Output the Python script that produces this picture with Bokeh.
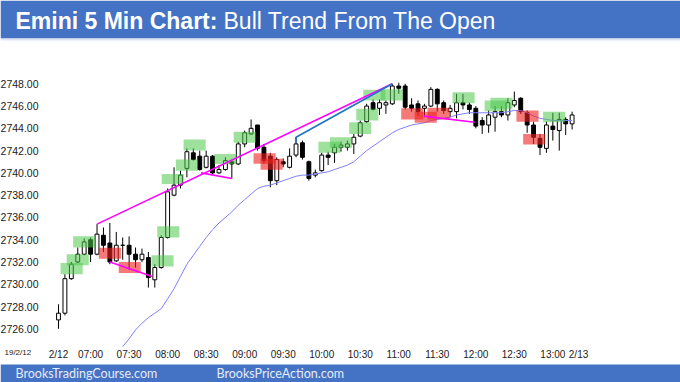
from bokeh.plotting import figure
from bokeh.models import Range1d
from bokeh.core.properties import value
from bokeh.embed import file_html
from bokeh.resources import INLINE

# ---------------- data ----------------
opens = [2726.8, 2727.4, 2730.5, 2732.0, 2732.7, 2734.0, 2732.7, 2734.4, 2733.7, 2732.1,
         2733.5, 2733.5, 2732.7, 2732.2, 2732.4, 2730.4, 2731.5, 2734.2, 2738.0, 2738.9,
         2740.4, 2741.8, 2741.5, 2740.5, 2741.5, 2740.0, 2740.3, 2741.0, 2740.8, 2742.6,
         2743.5, 2744.3, 2742.3, 2741.5, 2739.3, 2741.0, 2740.5, 2741.6, 2742.7, 2741.0,
         2739.8, 2740.2, 2741.6, 2741.8, 2742.3, 2742.3, 2742.6, 2743.3, 2744.6, 2746.3,
         2745.8, 2746.1, 2746.2, 2747.8, 2747.8, 2746.1, 2746.2, 2745.8, 2746.0, 2747.5,
         2746.3, 2745.5, 2745.5, 2746.3, 2746.1, 2745.8, 2744.7, 2744.3, 2745.0, 2745.5,
         2745.2, 2746.1, 2746.7, 2745.4, 2744.3, 2743.1, 2742.2, 2744.2, 2743.8, 2744.8,
         2744.4]
highs = [2728.2, 2730.9, 2732.0, 2733.3, 2734.1, 2734.2, 2735.4, 2735.1, 2735.5, 2734.7,
         2734.2, 2734.3, 2733.3, 2733.2, 2732.9, 2731.8, 2734.4, 2738.6, 2740.5, 2740.2,
         2742.2, 2742.2, 2742.0, 2742.0, 2741.6, 2740.7, 2741.4, 2741.2, 2742.8, 2743.8,
         2744.8, 2744.3, 2742.6, 2741.8, 2741.4, 2741.3, 2742.2, 2743.2, 2742.9, 2741.1,
         2740.3, 2741.8, 2741.9, 2742.6, 2742.8, 2742.9, 2743.5, 2744.7, 2746.2, 2746.6,
         2746.6, 2746.5, 2748.0, 2748.1, 2748.0, 2746.7, 2746.5, 2746.2, 2747.7, 2747.6,
         2746.5, 2746.1, 2747.1, 2747.1, 2746.3, 2746.0, 2745.0, 2745.6, 2746.0, 2746.0,
         2746.7, 2747.3, 2746.8, 2745.6, 2744.6, 2743.5, 2744.6, 2745.4, 2745.4, 2745.0,
         2745.5]
lows = [2726.0, 2727.2, 2730.4, 2731.9, 2732.6, 2732.0, 2732.6, 2732.9, 2731.8, 2732.0,
        2732.2, 2731.3, 2731.5, 2732.0, 2729.7, 2729.7, 2731.4, 2734.1, 2737.9, 2738.6,
        2739.6, 2741.1, 2740.2, 2740.4, 2739.9, 2739.9, 2740.2, 2739.5, 2740.7, 2742.3,
        2743.4, 2742.0, 2740.8, 2738.7, 2738.9, 2740.5, 2740.4, 2741.4, 2741.2, 2739.3,
        2739.6, 2740.1, 2740.7, 2740.9, 2741.9, 2742.0, 2741.7, 2743.2, 2744.5, 2745.6,
        2745.2, 2745.3, 2746.1, 2747.1, 2745.7, 2745.5, 2745.1, 2745.0, 2745.9, 2745.5,
        2745.3, 2745.0, 2744.9, 2745.7, 2745.3, 2744.0, 2743.5, 2743.6, 2743.7, 2745.0,
        2744.7, 2745.9, 2745.3, 2743.6, 2742.6, 2741.6, 2741.8, 2742.9, 2742.0, 2743.4,
        2743.9]
closes = [2727.4, 2730.5, 2731.8, 2732.7, 2733.8, 2732.7, 2734.5, 2733.5, 2732.0, 2733.5,
          2733.5, 2732.7, 2732.2, 2732.7, 2730.6, 2731.5, 2734.2, 2738.3, 2738.9, 2739.8,
          2741.9, 2741.2, 2740.3, 2741.5, 2740.0, 2740.3, 2741.1, 2740.8, 2742.6, 2743.6,
          2744.0, 2742.2, 2741.1, 2739.3, 2741.2, 2740.8, 2741.5, 2742.6, 2741.4, 2739.5,
          2740.0, 2741.6, 2741.4, 2742.3, 2742.5, 2742.6, 2743.2, 2744.5, 2746.0, 2745.7,
          2746.3, 2746.3, 2747.8, 2747.6, 2745.9, 2745.8, 2745.5, 2746.0, 2747.5, 2746.2,
          2745.6, 2745.8, 2746.3, 2746.1, 2745.7, 2744.2, 2744.3, 2745.2, 2745.5, 2745.2,
          2746.3, 2746.5, 2745.5, 2744.3, 2743.2, 2742.3, 2744.3, 2743.9, 2744.8, 2744.4,
          2745.2]
bar_index = list(range(len(opens)))

# 20-bar moving average (bars 10..80)
ma_index = list(range(10, 81))
ma_values = [2724.4, 2725.1, 2725.9, 2726.5, 2727.0, 2727.4, 2727.8, 2728.7, 2729.6, 2730.7,
             2731.8, 2732.6, 2733.4, 2734.2, 2734.9, 2735.5, 2736.0, 2736.5, 2737.1, 2737.6,
             2738.1, 2738.6, 2738.8, 2738.9, 2739.1, 2739.3, 2739.5, 2739.7, 2739.8, 2739.8,
             2739.9, 2740.0, 2740.1, 2740.3, 2740.5, 2740.7, 2741.0, 2741.5, 2742.0, 2742.4,
             2742.8, 2743.2, 2743.6, 2743.9, 2744.1, 2744.3, 2744.4, 2744.5, 2744.7, 2744.8,
             2744.9, 2745.0, 2745.2, 2745.3, 2745.4, 2745.4, 2745.4, 2745.4, 2745.4, 2745.4,
             2745.5, 2745.6, 2745.6, 2745.4, 2745.1, 2744.9, 2744.8, 2744.7, 2744.7, 2744.7,
             2744.7]

# highlighted bars (centre bar, top, bottom)
green_center = [2.05, 3.0, 4.0, 16.2, 17.1, 17.8, 20.0, 21.2, 26.0, 29.0, 42.2, 44.0,
                47.0, 48.1, 49.2, 51.9, 63.1, 68.1, 69.0, 77.2]
green_top = [2731.9, 2732.7, 2734.3, 2732.6, 2735.2, 2739.9, 2741.2, 2743.0, 2741.7, 2743.7,
             2742.8, 2743.2, 2744.55, 2745.75, 2747.46, 2747.5, 2747.25, 2746.5, 2746.74, 2745.5]
green_bottom = [2730.9, 2731.7, 2733.3, 2731.6, 2734.2, 2739.0, 2740.2, 2742.0, 2740.8, 2742.7,
                2741.8, 2742.25, 2743.5, 2744.7, 2746.5, 2746.5, 2746.26, 2745.54, 2745.75, 2744.55]
red_center = [8.0, 11.1, 32.1, 33.2, 55.1, 57.2, 59.2, 73.05, 74.1]
red_top = [2733.27, 2732.0, 2741.77, 2741.27, 2745.8, 2745.5, 2745.85, 2745.6, 2743.5]
red_bottom = [2732.29, 2731.0, 2740.82, 2740.28, 2744.8, 2744.5, 2744.8, 2744.6, 2742.55]

# trend lines
bull_line_x = [6, 52]
bull_line_y = [2735.4, 2748.0]
blue_line_x = [37, 37, 52]
blue_line_y = [2742.7, 2743.2, 2748.0]
bear1_x = [8, 14.6]
bear1_y = [2732.0, 2730.7]
bear2_x = [22.2, 27.0]
bear2_y = [2740.0, 2739.5]
bear3_x = [56.9, 64.8]
bear3_y = [2745.1, 2744.55]

# axes
y_ticks = [2726, 2728, 2730, 2732, 2734, 2736, 2738, 2740, 2742, 2744, 2746, 2748]
x_tick_pos = [0, 5, 11, 17, 23, 29, 35, 41, 47, 53, 59, 65, 71, 77, 81]
x_tick_labels = ["2/12", "07:00", "07:30", "08:00", "08:30", "09:00", "09:30", "10:00",
                 "10:30", "11:00", "11:30", "12:00", "12:30", "13:00", "2/13"]
date_label = "19/2/12"
title_bold = "Emini 5 Min Chart:"
title_rest = "Bull Trend From The Open"
footer_texts = ["BrooksTradingCourse.com", "BrooksPriceAction.com"]

# ---------------- figure ----------------
W, H = 680, 382
BLUE = "#4472C4"
FONT = "Liberation Sans"

# default ranges are page pixels (y grows downwards); chart data use their own scales
p = figure(width=W, height=H, x_range=Range1d(0, W), y_range=Range1d(H, 0),
           x_axis_location=None, y_axis_location=None, toolbar_location=None,
           output_backend="svg", min_border=0, outline_line_color=None,
           background_fill_color="white", border_fill_color="white")
p.grid.visible = False
p.extra_x_ranges = {"idx": Range1d(-9.034, 96.885)}
p.extra_y_ranges = {"price": Range1d(2721.177, 2755.480)}
D = dict(x_range_name="idx", y_range_name="price")

# candles
p.segment(x0=bar_index, y0=lows, x1=bar_index, y1=highs, line_color="black",
          line_width=1, **D)
body_top = [max(o, c) for o, c in zip(opens, closes)]
body_bot = [min(o, c) for o, c in zip(opens, closes)]
body_fill = ["white" if c >= o else "black" for o, c in zip(opens, closes)]
p.vbar(x=bar_index, width=0.6, top=body_top, bottom=body_bot, fill_color=body_fill,
       line_color="black", line_width=1, **D)

# moving average
p.line(ma_index, ma_values, line_color="#7F7FFF", line_width=1, **D)

# highlight boxes
HALF = 1.72
p.quad(left=[c - HALF for c in green_center], right=[c + HALF for c in green_center],
       top=green_top, bottom=green_bottom, fill_color="#4CC94C", fill_alpha=0.55,
       line_color=None, **D)
p.quad(left=[c - HALF for c in red_center], right=[c + HALF for c in red_center],
       top=red_top, bottom=red_bottom, fill_color="#F02020", fill_alpha=0.6,
       line_color=None, **D)

# trend lines
for lx, ly, col in [(bull_line_x, bull_line_y, "#FF00FF"),
                    (blue_line_x, blue_line_y, "#1F73C8"),
                    (bear1_x, bear1_y, "#FF00FF"),
                    (bear2_x, bear2_y, "#FF00FF"),
                    (bear3_x, bear3_y, "#FF00FF")]:
    p.line(lx, ly, line_color=col, line_width=1.6, **D)

# y tick labels (placed with the price scale)
p.text(x=[38] * len(y_ticks), y=y_ticks, text=[f"{t:.2f}" for t in y_ticks],
       y_range_name="price", text_font=value(FONT), text_font_size="10.5px",
       text_color="#1a1a1a", text_align="right", text_baseline="middle")
# x tick labels (placed with the bar scale)
p.text(x=x_tick_pos, y=[354] * len(x_tick_pos), text=x_tick_labels,
       x_range_name="idx", text_font=value(FONT), text_font_size="10px",
       text_color="#1a1a1a", text_align="center", text_baseline="middle")
p.text(x=[4], y=[352], text=[date_label], text_font=value(FONT),
       text_font_size="8px", text_color="#1a1a1a", text_align="left",
       text_baseline="middle")

# header band
p.quad(left=[0], right=[W], top=[0], bottom=[38], fill_color=BLUE, line_color=None)
p.quad(left=[0], right=[W], top=[38], bottom=[40], fill_color="#DCE4F2", line_color=None)
p.text(x=[15], y=[20.5], text=[title_bold], text_font=value(FONT),
       text_font_style="bold", text_font_size="23px", text_color="white",
       text_align="left", text_baseline="middle")
p.text(x=[223], y=[20.5], text=[title_rest], text_font=value(FONT),
       text_font_style="normal", text_font_size="23px", text_color="white",
       text_align="left", text_baseline="middle")

# footer band
p.quad(left=[0], right=[W], top=[364], bottom=[H], fill_color=BLUE, line_color=None)
p.text(x=[15, 216], y=[373, 373], text=footer_texts, text_font=value("Lato"),
       text_font_size="12.5px", text_color="#E6ECF7", text_align="left",
       text_baseline="middle")

open("out.html", "w").write(file_html(p, INLINE))
